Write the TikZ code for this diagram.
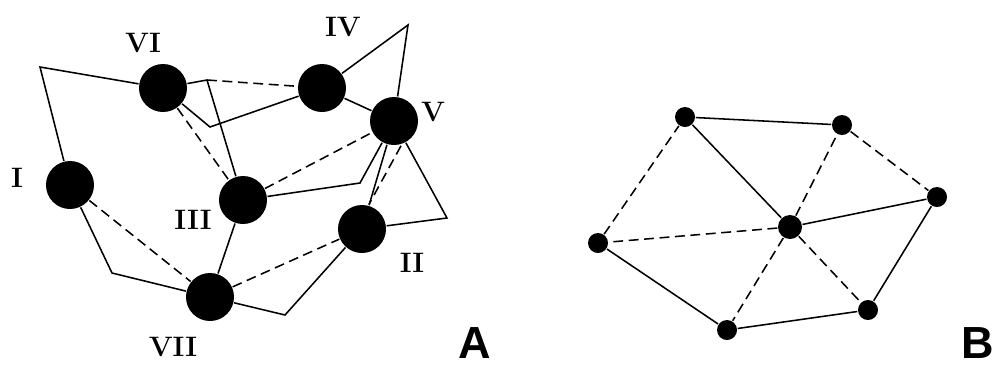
\documentclass[tikz,border=0pt]{standalone}
\usepackage{fontspec}
\newfontfamily\panelfont{Liberation Sans}
\begin{document}
\begin{tikzpicture}[
x=0.025cm, y=-0.025cm,
line width=1.1pt,
big/.style={circle, fill=black, minimum size=1.2cm, inner sep=0pt},
small/.style={circle, fill=black, minimum size=0.5cm, inner sep=0pt},
brokenline/.style={dash pattern=on 7pt off 4pt},
numeral/.style={font=\bfseries\fontsize{20}{20}\selectfont},
panel/.style={font=\panelfont\bfseries\fontsize{32}{32}\selectfont, inner sep=0pt, anchor=base}
]
\useasboundingbox (0,0) rectangle (1000,370);
% part A
\node[big] (I) at (70,185) {};
\node[big] (II) at (362,229) {};
\node[big] (III) at (243,200) {};
\node[big] (IV) at (322,88) {};
\node[big] (V) at (394,121) {};
\node[big] (VI) at (163,88) {};
\node[big] (VII) at (210,297) {};
\node[numeral] (lI) at (17,178) {I};
\node[numeral] (lII) at (412,263) {II};
\node[numeral] (lIII) at (193,220) {III};
\node[numeral] (lIV) at (343,27) {IV};
\node[numeral] (lV) at (433,112) {V};
\node[numeral] (lVI) at (143,43) {VI};
\node[numeral] (lVII) at (173,347) {VII};
\coordinate (ka) at (40,67);
\coordinate (kb) at (112,273);
\coordinate (kc) at (285,315);
\coordinate (kd) at (447,218);
\coordinate (ke) at (408,25);
\coordinate (kf) at (210,127);
\coordinate (kg) at (207,80);
\coordinate (kh) at (360,183);
\draw (I) -- (ka) -- (VI);
\draw (I) -- (kb) -- (VII);
\draw (VII) -- (kc) -- (II);
\draw (II) -- (kd) -- (V);
\draw (V) -- (ke) -- (IV);
\draw (IV) -- (V);
\draw (IV) -- (kf) -- (VI);
\draw (VI) -- (kg) -- (III);
\draw (III) -- (kh) -- (V);
\draw (III) -- (VII);
\draw (V) -- (II);
\draw[brokenline] (kg) -- (IV);
\draw[brokenline] (VI) -- (III);
\draw[brokenline] (III) -- (V);
\draw[brokenline] (I) -- (VII);
\draw[brokenline] (VII) -- (II);
\draw[brokenline] ([xshift=5]V.south) -- ([xshift=5]II.north);
\node[panel] (A) at (475,358) {A};
% part B
\node[small] (b1) at (685,117) {};
\node[small] (b2) at (842,125) {};
\node[small] (b3) at (937,197) {};
\node[small] (b4) at (868,310) {};
\node[small] (b5) at (727,330) {};
\node[small] (b6) at (598,243) {};
\node[small, minimum size=0.6cm] (c) at (790,227) {};
\draw (b1) -- (b2);
\draw (b3) -- (b4) -- (b5) -- (b6);
\draw[brokenline] (b2) -- (b3);
\draw[brokenline] (b6) -- (b1);
\draw (c) -- (b1);
\draw (c) -- (b3);
\draw[brokenline] (c) -- (b2);
\draw[brokenline] (c) -- (b4);
\draw[brokenline] (c) -- (b5);
\draw[brokenline] (c) -- (b6);
\node[panel] (B) at (978,358) {B};
\end{tikzpicture}
\end{document}
